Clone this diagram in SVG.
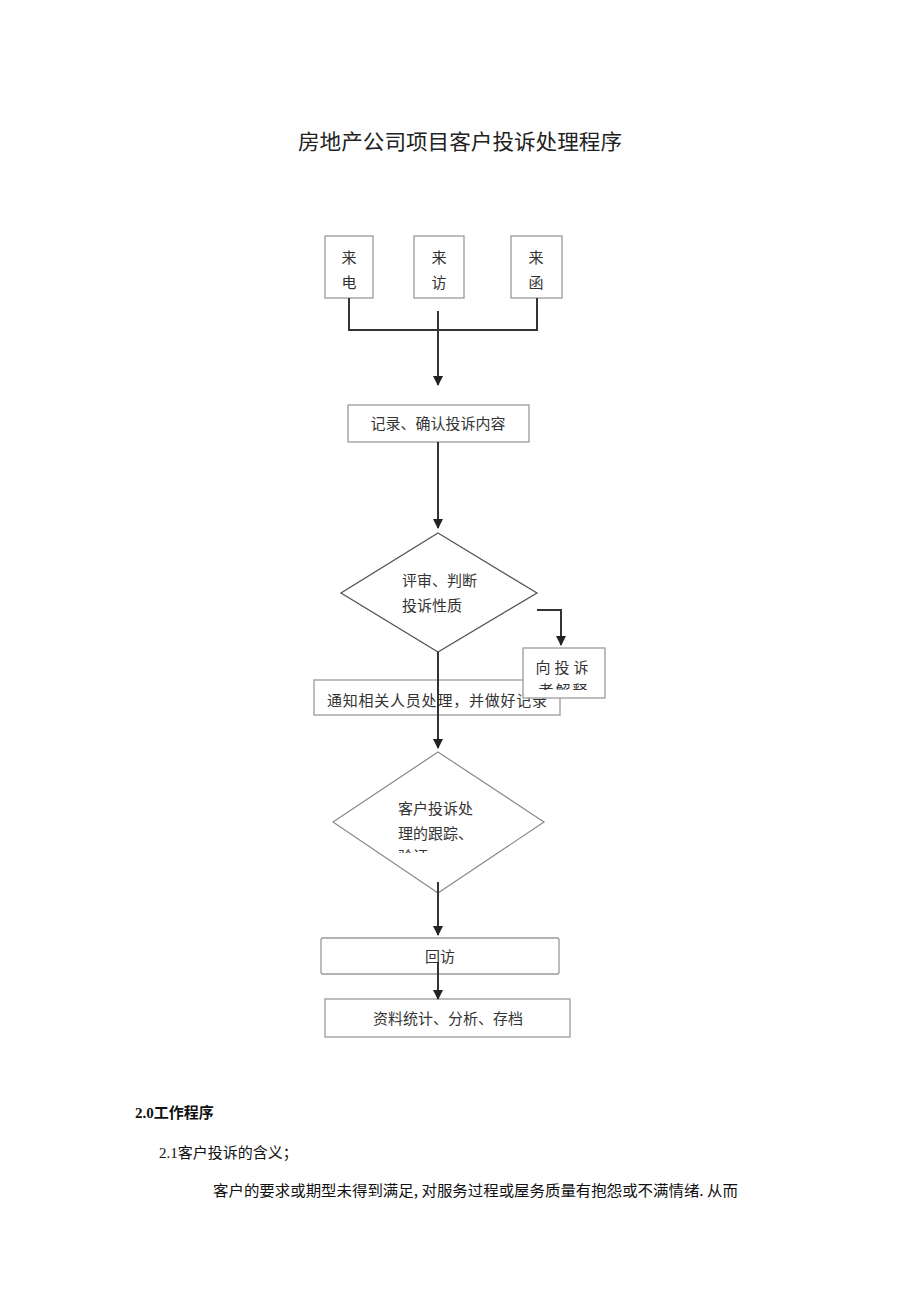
<svg xmlns="http://www.w3.org/2000/svg" width="920" height="1301" viewBox="0 0 920 1301">
<style>
.bg{fill:#ffffff}
.box{fill:#ffffff;stroke:#9a9a9a;stroke-width:1.3}
.dia{fill:#ffffff;stroke:#555555;stroke-width:1.3}
.dia2{fill:#ffffff;stroke:#8a8a8a;stroke-width:1.2}
.t{font-family:"Noto Sans CJK SC","Liberation Serif",serif;font-size:15px;fill:#333333}
.title{font-family:"Noto Sans CJK SC","Liberation Sans",sans-serif;font-size:21px;fill:#222222}
.body{font-family:"Liberation Serif","Noto Sans CJK SC",serif;font-size:15px;fill:#111111}
.ln{fill:none;stroke:#333333;stroke-width:2}
</style>
<defs>
<marker id="ah" viewBox="0 0 10 10" refX="9" refY="5" markerWidth="5" markerHeight="5" orient="auto" markerUnits="strokeWidth">
<path d="M0,0 L10,5 L0,10 z" fill="#222222"/>
</marker>
<clipPath id="c1"><rect x="523" y="648" width="82" height="42"/></clipPath>
<clipPath id="c2"><rect x="380" y="790" width="120" height="63"/></clipPath>
</defs>
<rect class="bg" x="0" y="0" width="920" height="1301"/>

<text class="title" x="460" y="149" text-anchor="middle" textLength="324" lengthAdjust="spacingAndGlyphs">房地产公司项目客户投诉处理程序</text>

<g id="n-laidian">
<rect class="box" x="325" y="236" width="48" height="62"/>
<text class="t" x="349" y="263" text-anchor="middle">来</text>
<text class="t" x="349" y="288" text-anchor="middle">电</text>
</g>
<g id="n-laifang">
<rect class="box" x="414" y="236" width="50" height="62"/>
<text class="t" x="439" y="263" text-anchor="middle">来</text>
<text class="t" x="439" y="288" text-anchor="middle">访</text>
</g>
<g id="n-laihan">
<rect class="box" x="511" y="236" width="51" height="62"/>
<text class="t" x="536" y="263" text-anchor="middle">来</text>
<text class="t" x="536" y="288" text-anchor="middle">函</text>
</g>

<g id="n-record">
<rect class="box" x="348" y="405" width="181" height="37"/>
<text class="t" x="438" y="429" text-anchor="middle">记录、确认投诉内容</text>
</g>

<g id="n-judge">
<polygon class="dia" points="438,533 537,593 438,652 341,593"/>
<text class="t" x="402" y="586">评审、判断</text>
<text class="t" x="402" y="611">投诉性质</text>
</g>

<g id="n-notify">
<rect class="box" x="314" y="680" width="246" height="35"/>
<text class="t" x="327" y="706" textLength="220" lengthAdjust="spacing">通知相关人员处理，并做好记录</text>
</g>

<g id="n-explain">
<rect class="box" x="523" y="648" width="82" height="50"/>
<text class="t" x="564" y="673" text-anchor="middle" letter-spacing="4">向投诉</text>
<g clip-path="url(#c1)"><text class="t" x="564" y="696" text-anchor="middle" letter-spacing="2">者解释</text></g>
</g>

<g id="n-track">
<polygon class="dia2" points="438,752 544,822 438,893 333,822"/>
<text class="t" x="398" y="814">客户投诉处</text>
<text class="t" x="398" y="839">理的跟踪、</text>
<g clip-path="url(#c2)"><text class="t" x="398" y="862">验证</text></g>
</g>

<g id="n-revisit">
<rect class="box" x="321" y="938" width="238" height="36" rx="2"/>
<text class="t" x="440" y="962" text-anchor="middle">回访</text>
</g>

<g id="n-archive">
<rect class="box" x="325" y="999" width="245" height="38"/>
<text class="t" x="448" y="1024" text-anchor="middle">资料统计、分析、存档</text>
</g>

<g id="connectors">
<polyline class="ln" points="349,298 349,330 537,330 537,298"/>
<line class="ln" x1="438" y1="311" x2="438" y2="385" marker-end="url(#ah)"/>
<line class="ln" x1="438" y1="442" x2="438" y2="528" marker-end="url(#ah)"/>
<polyline class="ln" points="537,610 561,610 561,645" marker-end="url(#ah)"/>
<line class="ln" x1="438" y1="652" x2="438" y2="748" marker-end="url(#ah)"/>
<line class="ln" x1="438" y1="882" x2="438" y2="935" marker-end="url(#ah)"/>
<line class="ln" x1="438" y1="962" x2="438" y2="999" marker-end="url(#ah)"/>
</g>

<text class="body" x="135" y="1118" font-weight="bold">2.0<tspan font-family="Noto Sans CJK SC, sans-serif" font-weight="bold">工作程序</tspan></text>
<text class="body" x="159" y="1158">2.1<tspan font-family="Noto Sans CJK SC, sans-serif">客户投诉的含义；</tspan></text>
<text class="body" x="213" y="1196" textLength="525" lengthAdjust="spacingAndGlyphs"><tspan font-family="Noto Sans CJK SC, sans-serif">客户的要求或期型未得到满足, 对服务过程或屋务质量有抱怨或不满情绪. 从而</tspan></text>
</svg>
